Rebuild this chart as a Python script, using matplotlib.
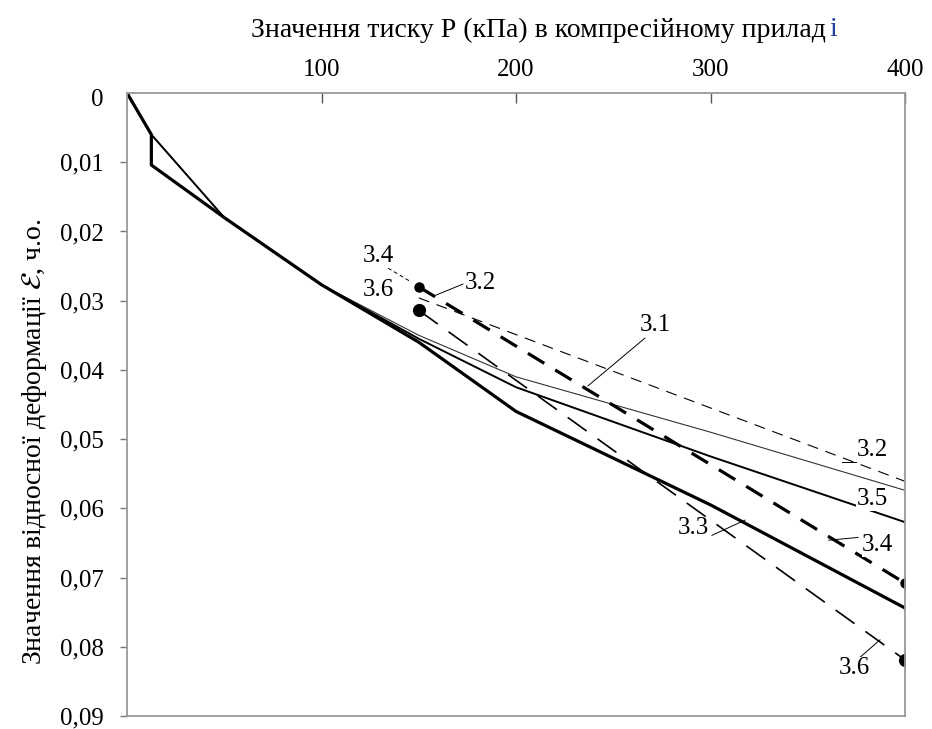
import numpy as np
import matplotlib.pyplot as plt

# fonts
plt.rcParams['font.family'] = ['Liberation Serif', 'DejaVu Serif']
plt.rcParams['mathtext.fontset'] = 'stix'

# data: pressure P (kPa) and relative deformation
P_main   = [0, 12.5, 50, 100, 150, 200, 300, 400]
e_31     = [0, 0.0060, 0.0180, 0.0277, 0.0350, 0.0410, 0.0490, 0.0574]
e_35     = [0, 0.0060, 0.0180, 0.0277, 0.0355, 0.0425, 0.0525, 0.0620]
P_33     = [0, 12.5, 12.5, 50, 100, 150, 200, 300, 400]
e_33     = [0, 0.0060, 0.0104, 0.0180, 0.0277, 0.0360, 0.0460, 0.0595, 0.0744]
P_fore   = [150, 400]
e_32     = [0.0296, 0.0561]
e_34     = [0.0280, 0.0708]
e_36     = [0.0314, 0.0819]

x_ticks  = [100, 200, 300, 400]
y_ticks  = [0.01, 0.02, 0.03, 0.04, 0.05, 0.06, 0.07, 0.08, 0.09]
y_labels = ['0,01', '0,02', '0,03', '0,04', '0,05', '0,06', '0,07', '0,08', '0,09']

fig = plt.figure(figsize=(9.32, 7.29), dpi=100)
ax = fig.add_axes([0.1363, 0.0178, 0.8348, 0.8546])

# curves
ax.plot(P_main, e_31, color='#333333', lw=0.8)
ax.plot(P_main, e_35, color='black', lw=1.4)
ax.plot(P_33, e_33, color='black', lw=2.3)
ax.plot(P_fore, e_32, color='black', lw=0.8, dashes=(10, 7))
ax.plot(P_fore, e_34, color='black', lw=2.3, dashes=(6, 4))
ax.plot(P_fore, e_34, 'o', color='black', ms=6.5)
ax.plot(P_fore, e_36, color='black', lw=1.2, dashes=(14, 8))
ax.plot(P_fore, e_36, 'o', color='black', ms=8.5)

# curve labels with leader lines
fs = 18
labels = [('3.4', 129, 0.0236), ('3.6', 129, 0.0285), ('3.2', 181.5, 0.0275),
          ('3.1', 271.5, 0.0335), ('3.2', 383, 0.0516), ('3.5', 383, 0.0587),
          ('3.3', 291, 0.0629), ('3.4', 386, 0.0653), ('3.6', 374, 0.0831)]
for txt, x, y in labels:
    ax.text(x, y, txt, fontsize=fs, ha='center', va='center',
            bbox=dict(facecolor='white', edgecolor='none', pad=0.3))

ax.plot([134.2, 145.5], [0.0253, 0.0272], color='black', lw=0.7, dashes=(4, 3))
leaders = [([172.7, 158.8], [0.0276, 0.0292]), ([266.3, 237.0], [0.0354, 0.0423]),
           ([367.5, 374.7], [0.0533, 0.0533]), ([360.8, 375.8], [0.0646, 0.0642]),
           ([300.7, 317.7], [0.0639, 0.0617]), ([376.9, 387.1], [0.0815, 0.0790])]
for xs, ys in leaders:
    ax.plot(xs, ys, color='black', lw=0.7)

# axes
ax.set_xlim(0, 400)
ax.set_ylim(0.09, 0)
ax.xaxis.tick_top()
ax.set_xticks(x_ticks)
ax.set_xticklabels([str(v) for v in x_ticks], fontsize=fs)
ax.set_yticks(y_ticks)
ax.set_yticklabels(y_labels, fontsize=fs)
ax.tick_params(axis='x', direction='in', length=7, width=1, color='#555555', pad=9)
ax.tick_params(axis='y', direction='out', length=5, width=1, color='#777777', pad=12)
for s in ax.spines.values():
    s.set_color('#999999')
    s.set_linewidth(1.3)

fig.text(97 / 932, 1 - 100 / 729, '0', fontsize=fs, ha='center', va='center')
fig.text(826 / 932, 1 - 30 / 729, 'Значення тиску Р (кПа) в компресійному прилад',
         fontsize=20, ha='right', va='center')
fig.text(829 / 932, 1 - 30 / 729, 'і', fontsize=20, ha='left', va='center', color='#1f3f9a')
fig.text(35 / 932, 1 - 442 / 729, 'Значення відносної деформації $\\mathcal{E}$, ч.о.',
         fontsize=20, rotation=90, ha='center', va='center')

plt.savefig('out.png', dpi=100)
